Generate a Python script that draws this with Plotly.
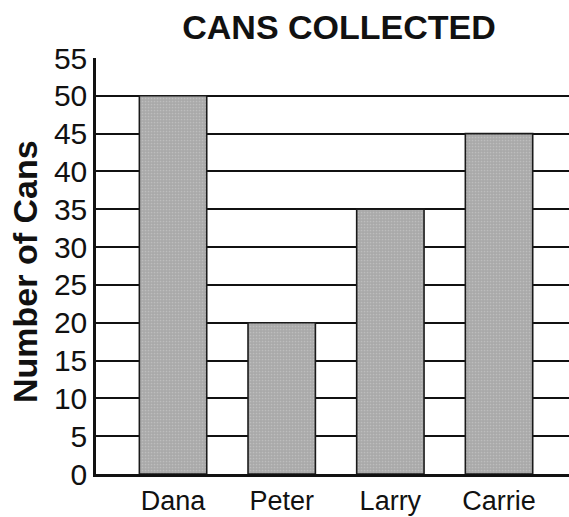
import plotly.graph_objects as go

# Cans collected per student
students = ["Dana", "Peter", "Larry", "Carrie"]
cans = [50, 20, 35, 45]
y_ticks = list(range(0, 60, 5))

W, H = 569, 517
L, R, T, B = 96, 0, 58, 43

fig = go.Figure(
    go.Bar(
        x=students,
        y=cans,
        width=0.62,
        marker=dict(
            color="#a9a9a9",
            line=dict(color="#1a1a1a", width=1.6),
            pattern=dict(shape=".", size=3, solidity=0.25,
                         fgcolor="#d2d2d2", fillmode="overlay"),
        ),
        hoverinfo="skip",
    )
)

font = "Liberation Sans, Arial, Helvetica, sans-serif"

fig.update_layout(
    width=W,
    height=H,
    margin=dict(l=L, r=R, t=T, b=B, pad=0),
    paper_bgcolor="white",
    plot_bgcolor="white",
    showlegend=False,
    font=dict(family=font, color="#111"),
    title=dict(
        text="<b>CANS COLLECTED</b>",
        font=dict(size=34, family=font, color="#111"),
        x=339 / W, xref="container", xanchor="center",
        y=1 - 27 / H, yref="container", yanchor="middle",
    ),
    bargap=0.38,
)

fig.update_xaxes(
    type="category",
    range=[-0.709, 3.644],
    showgrid=False,
    showline=True,
    linecolor="#111",
    linewidth=3,
    ticks="",
    ticklabelstandoff=1,
    tickfont=dict(size=27, family=font, color="#111"),
    fixedrange=True,
)

fig.update_yaxes(
    range=[0, 55],
    tickvals=y_ticks,
    ticktext=[str(v) for v in y_ticks],
    showgrid=True,
    gridcolor="#111",
    gridwidth=1.6,
    showline=True,
    linecolor="#111",
    linewidth=2.5,
    zeroline=False,
    ticks="",
    ticklabelstandoff=0,
    tickfont=dict(size=30, family=font, color="#111"),
    fixedrange=True,
)

fig.add_annotation(
    text="<b>Number of Cans</b>",
    textangle=-90,
    xref="paper", yref="paper",
    x=(25 - L) / (W - L - R), y=(H - B - 272) / (H - B - T),
    xanchor="center", yanchor="middle",
    showarrow=False,
    font=dict(size=34, family=font, color="#111"),
)

fig.write_html("out.html")
